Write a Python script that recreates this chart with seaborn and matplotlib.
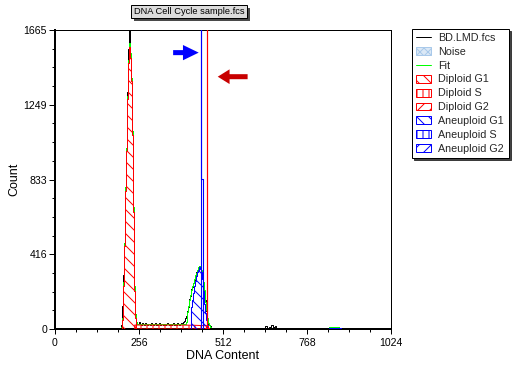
import matplotlib
matplotlib.use('Agg')
import matplotlib.pyplot as plt
import seaborn as sns
import pandas as pd
from matplotlib.patches import Patch, Rectangle, FancyArrow
from matplotlib.lines import Line2D
from matplotlib.ticker import MultipleLocator, FixedLocator

# ---------------- data ----------------
data_ch = [195, 198, 201, 204, 207, 210, 213, 216, 219, 222, 225, 228, 231, 234, 237, 240, 243, 246, 249,
           252, 255, 258, 261, 264, 267, 270, 273, 276, 279, 282, 285, 288, 291, 294, 297, 300, 303, 306,
           309, 312, 315, 318, 321, 324, 327, 330, 333, 336, 339, 342, 345, 348, 351, 354, 357, 360, 363,
           366, 369, 372, 375, 378, 381, 384, 387, 390, 393, 396, 399,
           402, 405, 408, 411, 414, 417, 420, 423, 426, 429, 432, 435, 438, 441, 444, 447, 450, 453, 456,
           459, 462, 465, 468, 471, 474, 477, 480,
           630, 636, 642, 648, 654, 660, 666, 672, 678, 684,
           826, 832, 838, 844, 850, 856, 862, 868, 874, 880]
data_ct = [0, 3, 8, 22, 130, 300, 480, 790, 1010, 1320, 1560, 1665, 1530, 1400, 1100, 670, 230, 85, 40,
           30, 26, 38, 27, 25, 31, 26, 24, 36, 27, 25, 29, 26, 24, 34, 27, 25, 26, 31,
           25, 24, 28, 35, 25, 26, 30, 24, 27, 25, 29, 33, 26, 24, 27, 25, 26, 31, 24,
           27, 25, 33, 26, 24, 29, 27, 32, 30, 38, 45, 60,
           75, 100, 125, 165, 185, 220, 235, 258, 275, 290, 318, 325, 340, 351, 338, 322, 300, 255, 205,
           160, 100, 55, 30, 22, 14, 8, 0,
           0, 8, 15, 5, 12, 20, 10, 14, 6, 0,
           0, 4, 9, 6, 11, 8, 10, 5, 3, 0]

fit_ch = [201, 204, 207, 210, 213, 216, 219, 222, 225, 228, 231, 234, 237, 240, 243, 246, 249, 252,
          300, 350, 399, 402, 405, 408, 411, 414, 417, 420, 423, 426, 429, 432, 435, 438, 441, 444,
          447, 450, 453, 456, 459, 462, 465, 468, 471, 474, 477,
          826, 832, 838, 844, 850, 856, 862, 868, 874]
fit_ct = [0, 10, 60, 260, 480, 790, 1010, 1300, 1500, 1590, 1535, 1400, 1100, 680, 240, 85, 40, 27,
          26, 26, 30, 40, 96, 130, 160, 190, 215, 240, 256, 280, 300, 312, 330, 345, 352, 345,
          330, 312, 260, 217, 150, 106, 60, 33, 20, 11, 0,
          0, 6, 10, 12, 12, 11, 9, 6, 0]

dip_g1_ch = [204, 207, 210, 213, 216, 219, 222, 225, 228, 231, 234, 237, 240, 243, 246, 249]
dip_g1 = [0, 50, 240, 460, 770, 990, 1280, 1480, 1570, 1510, 1380, 1080, 650, 210, 60, 0]

dip_s_ch = [243, 300, 360, 420, 466]
dip_s = [22, 22, 22, 21, 18]

dip_g2_ch = [455, 458, 461, 463, 465, 468, 471]
dip_g2 = [0, 8, 14, 3000, 14, 8, 0]

an_g1_ch = [414, 417, 420, 423, 426, 429, 432, 435, 438, 441, 444, 447, 450, 453, 456, 459, 462, 465, 468]
an_g1 = [0, 120, 160, 200, 240, 270, 295, 315, 330, 345, 335, 315, 280, 210, 140, 90, 50, 20, 0]

an_s_ch = [443, 445, 447, 449, 451]
an_s = [0, 3000, 833, 833, 0]

an_g2_ch = [832, 838, 844, 850, 856, 862, 868, 874]
an_g2 = [0, 5, 7, 8, 8, 7, 5, 0]

y_ticks = [0, 416.25, 832.5, 1248.75, 1665]
y_labels = ['0', '416', '833', '1249', '1665']
x_ticks = [0, 256, 512, 768, 1024]
x_labels = ['0', '256', '512', '768', '1024']

legend_labels = ['BD.LMD.fcs', 'Noise', 'Fit', 'Diploid G1', 'Diploid S', 'Diploid G2',
                 'Aneuploid G1', 'Aneuploid S', 'Aneuploid G2']

# ---------------- style ----------------
sns.set_style('ticks')
plt.rcParams['font.family'] = ['Liberation Sans', 'DejaVu Sans']
plt.rcParams['hatch.linewidth'] = 1.0

W, H = 521, 369
fig = plt.figure(figsize=(W / 72, H / 72), dpi=72)
fig.patch.set_facecolor('white')
ax = fig.add_axes([55 / W, 1 - 329 / H, (391 - 55) / W, (329 - 30) / H])

RED = '#ff0000'
BLUE = '#0000ff'
GREEN = '#00ff00'

# data histogram and fit
df_data = pd.DataFrame({'ch': data_ch, 'ct': data_ct})
df_fit = pd.DataFrame({'ch': fit_ch, 'ct': fit_ct})
sns.lineplot(data=df_data, x='ch', y='ct', ax=ax, color='black', lw=1, drawstyle='steps-mid',
             estimator=None, sort=False, errorbar=None, zorder=2)
sns.lineplot(data=df_fit, x='ch', y='ct', ax=ax, color=GREEN, lw=1, drawstyle='steps-mid',
             estimator=None, sort=False, errorbar=None, zorder=2.5)

def comp(ch, vals, color, hatch, step='mid'):
    ax.fill_between(ch, 0, vals, step=step, facecolor='none', edgecolor=color,
                    hatch=hatch, lw=1, zorder=3)

comp(dip_s_ch, dip_s, RED, '||', step=None)
comp(dip_g1_ch, dip_g1, RED, '\\\\')
comp(dip_g2_ch, dip_g2, RED, '//')
comp(an_g1_ch, an_g1, BLUE, '\\\\')
comp(an_s_ch, an_s, BLUE, '||')
comp(an_g2_ch, an_g2, BLUE, '//')

# crisp outlines for the two narrow spikes
for ch, vals, col in [(dip_g2_ch, dip_g2, RED), (an_s_ch, an_s, BLUE)]:
    sns.lineplot(x=ch, y=vals, ax=ax, color=col, lw=1.1, drawstyle='steps-mid',
                 estimator=None, sort=False, errorbar=None, zorder=4)

# arrows
ax.add_patch(FancyArrow(360, 1539, 78, 0, width=28, head_width=85, head_length=48,
                        length_includes_head=True, color=BLUE, lw=0, zorder=4))
ax.add_patch(FancyArrow(587, 1405, -91, 0, width=28, head_width=82, head_length=36,
                        length_includes_head=True, color='#c80000', lw=0, zorder=4))

# axes
ax.set_xlim(0, 1024)
ax.set_ylim(0, 1665)
ax.xaxis.set_major_locator(FixedLocator(x_ticks))
ax.set_xticklabels(x_labels)
ax.yaxis.set_major_locator(FixedLocator(y_ticks))
ax.set_yticklabels(y_labels)
ax.xaxis.set_minor_locator(MultipleLocator(64))
ax.yaxis.set_minor_locator(MultipleLocator(1665 / 16))
ax.tick_params(axis='x', which='major', length=5, width=1, pad=4, labelsize=10.5, colors='black')
ax.tick_params(axis='x', which='minor', length=3, width=1, colors='black')
ax.tick_params(axis='y', which='major', length=6, width=1, pad=2, labelsize=10.5, colors='black')
ax.tick_params(axis='y', which='minor', length=3, width=1, colors='black')
for s in ['left', 'bottom']:
    ax.spines[s].set_linewidth(2)
    ax.spines[s].set_color('black')
for s in ['top', 'right']:
    ax.spines[s].set_visible(True)
    ax.spines[s].set_linewidth(1)
    ax.spines[s].set_color('black')
ax.set_xlabel('DNA Content', fontsize=12.5, labelpad=2, color='black')
ax.set_ylabel('Count', fontsize=12.5, labelpad=3, color='black')

# title box with shadow
fig.add_artist(Rectangle((134 / W, 1 - 21 / H), 116 / W, 13 / H, transform=fig.transFigure,
                         facecolor='#4a4a4a', edgecolor='none', zorder=5))
fig.add_artist(Rectangle((131 / W, 1 - 18 / H), 116 / W, 13 / H, transform=fig.transFigure,
                         facecolor='#dcdcdc', edgecolor='black', lw=1, zorder=6))
fig.text(189 / W, 1 - 11.5 / H, 'DNA Cell Cycle sample.fcs', fontsize=9.3, ha='center', va='center',
         color='black', zorder=7)

# legend
handles = [
    Line2D([], [], color='black', lw=1),
    Patch(facecolor='#dbe8f6', edgecolor='#a9c9ea', hatch='xxx', lw=1),
    Line2D([], [], color=GREEN, lw=1),
    Patch(facecolor='white', edgecolor=RED, hatch='\\\\', lw=1),
    Patch(facecolor='white', edgecolor=RED, hatch='||', lw=1),
    Patch(facecolor='white', edgecolor=RED, hatch='//', lw=1),
    Patch(facecolor='white', edgecolor=BLUE, hatch='\\\\', lw=1),
    Patch(facecolor='white', edgecolor=BLUE, hatch='||', lw=1),
    Patch(facecolor='white', edgecolor=BLUE, hatch='//', lw=1),
]
leg = fig.legend(handles, legend_labels, loc='upper left', bbox_to_anchor=(412 / W, 1 - 28.5 / H),
                 bbox_transform=fig.transFigure, fontsize=10.8, frameon=True, fancybox=False,
                 shadow={'color': '#303030', 'alpha': 0.9}, borderpad=0.4, labelspacing=0.36,
                 handlelength=1.35, handleheight=0.75, handletextpad=0.7, borderaxespad=0)
leg.get_frame().set_edgecolor('black')
leg.get_frame().set_linewidth(1)
leg.get_frame().set_facecolor('white')

fig.savefig('out.png', dpi=72, facecolor='white')
